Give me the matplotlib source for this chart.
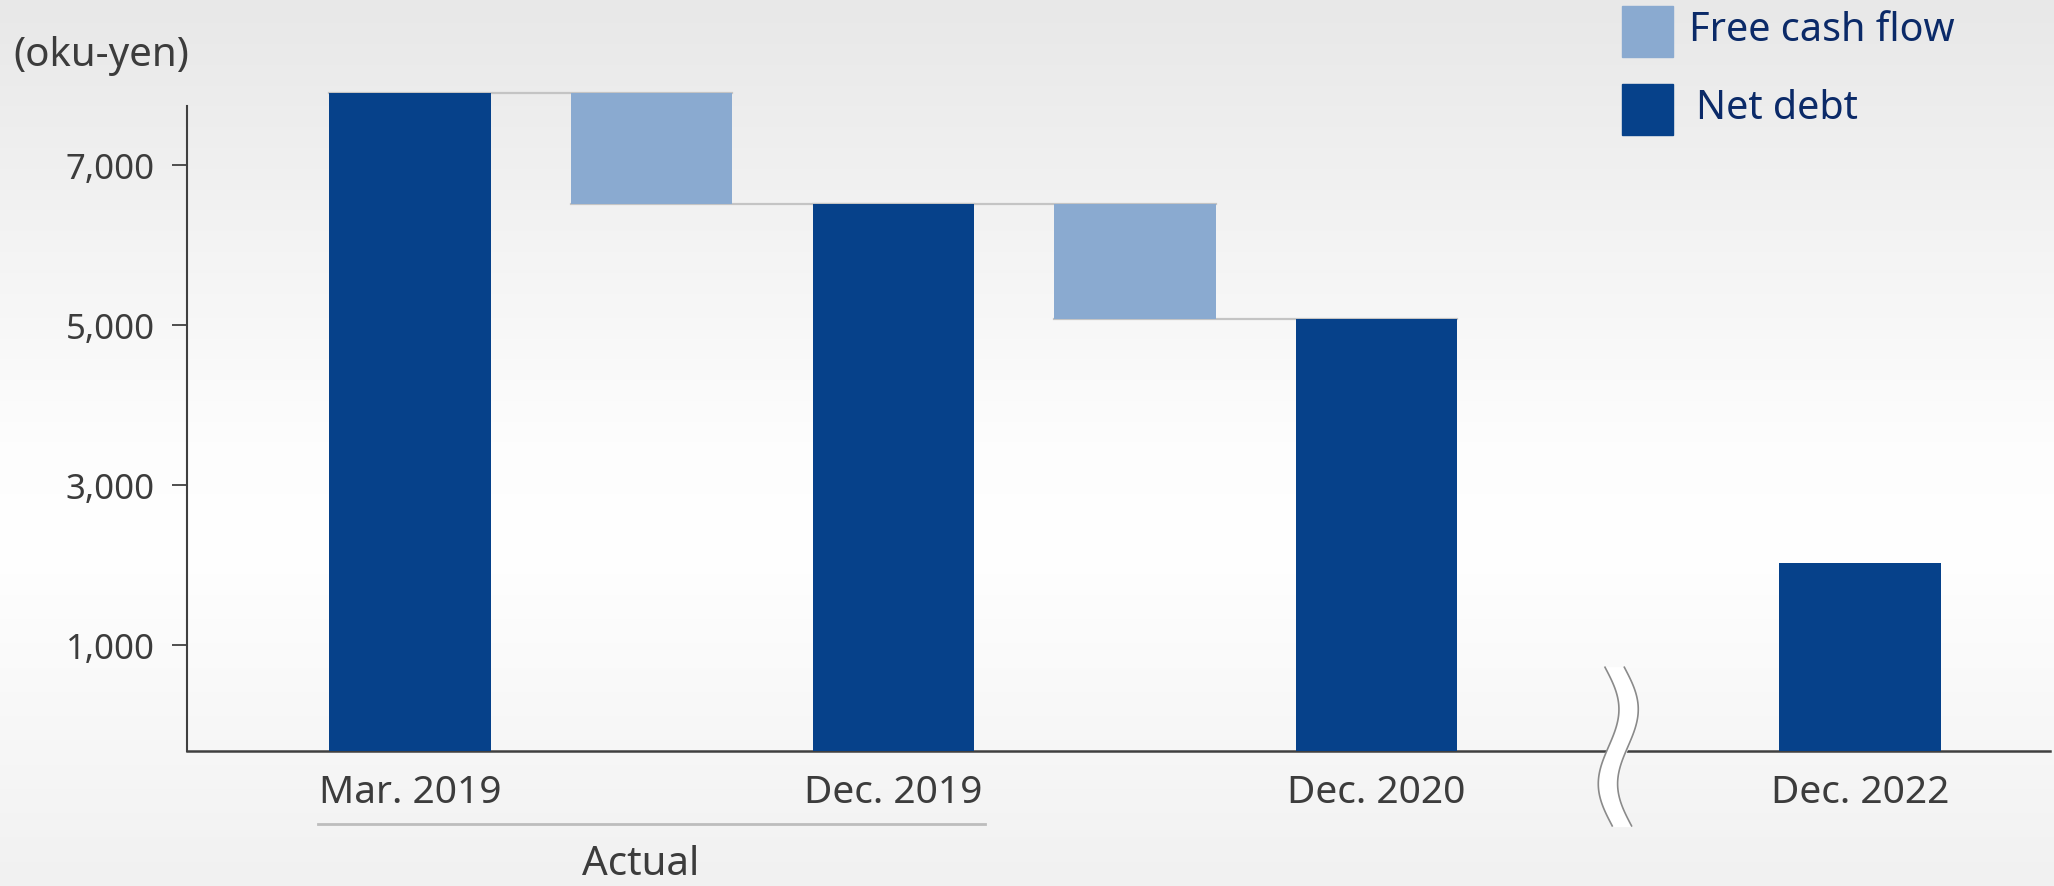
import matplotlib.pyplot as plt
import numpy as np
from matplotlib.patches import Rectangle
from matplotlib.colors import LinearSegmentedColormap
import matplotlib.transforms as mtransforms

plt.rcParams["font.family"] = ["Noto Sans", "DejaVu Sans"]

# data (oku-yen)
categories = ["Mar. 2019", "", "Dec. 2019", "", "Dec. 2020", "", "Dec. 2022"]
net_debt = [7900, 6520, 5080, 2030]
net_debt_pos = [0, 2, 4, 6]
fcf_pos = [1, 3]
yticks = [1000, 3000, 5000, 7000]
ytick_labels = ["1,000", "3,000", "5,000", "7,000"]

DARK = "#06418a"
LIGHT = "#8aaad0"
TEXT = "#3c3c3c"
NAVY = "#0b2a68"

fig = plt.figure(figsize=(20.54, 8.87), dpi=100)

# gradient background
bg = fig.add_axes([0, 0, 1, 1], zorder=-10)
cmap = LinearSegmentedColormap.from_list(
    "bg", [(0, "#e8e8e8"), (0.5, "#fdfdfd"), (0.62, "#ffffff"), (1, "#f1f1f1")]
)
bg.imshow(np.linspace(0, 1, 256).reshape(-1, 1), aspect="auto", cmap=cmap,
          extent=[0, 1, 0, 1], origin="upper")
bg.set_axis_off()

ax = fig.add_axes([0.091, 0.152, 0.907, 0.848])
ax.patch.set_alpha(0)
ymin, ymax = -330, 9080
ax.set_ylim(ymin, ymax)
ax.set_xlim(-0.923, 6.786)

w = 0.667
ax.bar(net_debt_pos, [v - ymin for v in net_debt], bottom=ymin, width=w,
       color=DARK, zorder=3)

# free cash flow bars between consecutive net debt levels
fcf_top = net_debt[:2]
fcf_bot = net_debt[1:3]
ax.bar(fcf_pos, [t - b for t, b in zip(fcf_top, fcf_bot)], bottom=fcf_bot,
       width=w, color=LIGHT, zorder=3)

# connector lines
for i in range(2):
    ax.plot([net_debt_pos[i] - w / 2, fcf_pos[i] + w / 2], [net_debt[i]] * 2,
            color="#c4c4c4", lw=1.6, zorder=2)
    ax.plot([fcf_pos[i] - w / 2, net_debt_pos[i + 1] + w / 2],
            [net_debt[i + 1]] * 2, color="#c4c4c4", lw=1.6, zorder=2)

for s in ["top", "right"]:
    ax.spines[s].set_visible(False)
ax.spines["left"].set_bounds(ymin, 7740)
ax.spines["left"].set_color("#404040")
ax.spines["bottom"].set_color("#404040")
ax.spines["left"].set_linewidth(1.5)
ax.spines["bottom"].set_linewidth(1.8)

ax.set_yticks(yticks)
ax.set_yticklabels(ytick_labels)
ax.tick_params(axis="y", length=11, width=1.3, color="#404040", labelsize=25,
               labelcolor=TEXT, pad=12)
ax.set_xticks(range(len(categories)))
ax.set_xticklabels(categories)
ax.tick_params(axis="x", length=0, labelsize=28, labelcolor=TEXT, pad=16)

# axis break symbol at position 5
brk = 5
t = np.linspace(0, 1, 100)
yy = 720 - t * (720 + 1265)
xc = brk + 0.05 * np.sin(2 * np.pi * t) + 0.03 * (t - 0.5)
hw = 0.04
ax.fill_betweenx(yy, xc - hw, xc + hw, color="white", zorder=5, clip_on=False)
ax.plot(xc - hw, yy, color="#8a8a8a", lw=1.2, zorder=6, clip_on=False)
ax.plot(xc + hw, yy, color="#8a8a8a", lw=1.2, zorder=6, clip_on=False)

# "Actual" bracket
trans = mtransforms.blended_transform_factory(ax.transData, ax.transAxes)
ax.plot([-0.38, 2.38], [-0.097, -0.097], transform=trans, color="#bdbdbd",
        lw=2, clip_on=False)
ax.text(0.955, -0.15, "Actual", transform=trans, ha="center", va="center",
        fontsize=29, color=TEXT)

fig.text(13 / 2054, 1 - 56 / 887, "(oku-yen)", ha="left", va="center",
         fontsize=29, color=TEXT)

# legend
for (y0, col, lab, tx) in [(7, LIGHT, "Free cash flow", 1689),
                           (85, DARK, "Net debt", 1696)]:
    fig.patches.append(Rectangle((1622 / 2054, 1 - (y0 + 51) / 887),
                                 51 / 2054, 51 / 887, transform=fig.transFigure,
                                 color=col))
    fig.text(tx / 2054, 1 - (y0 + 24) / 887, lab, ha="left", va="center",
             fontsize=28.5, color=NAVY)

fig.savefig("out.png", dpi=100)
